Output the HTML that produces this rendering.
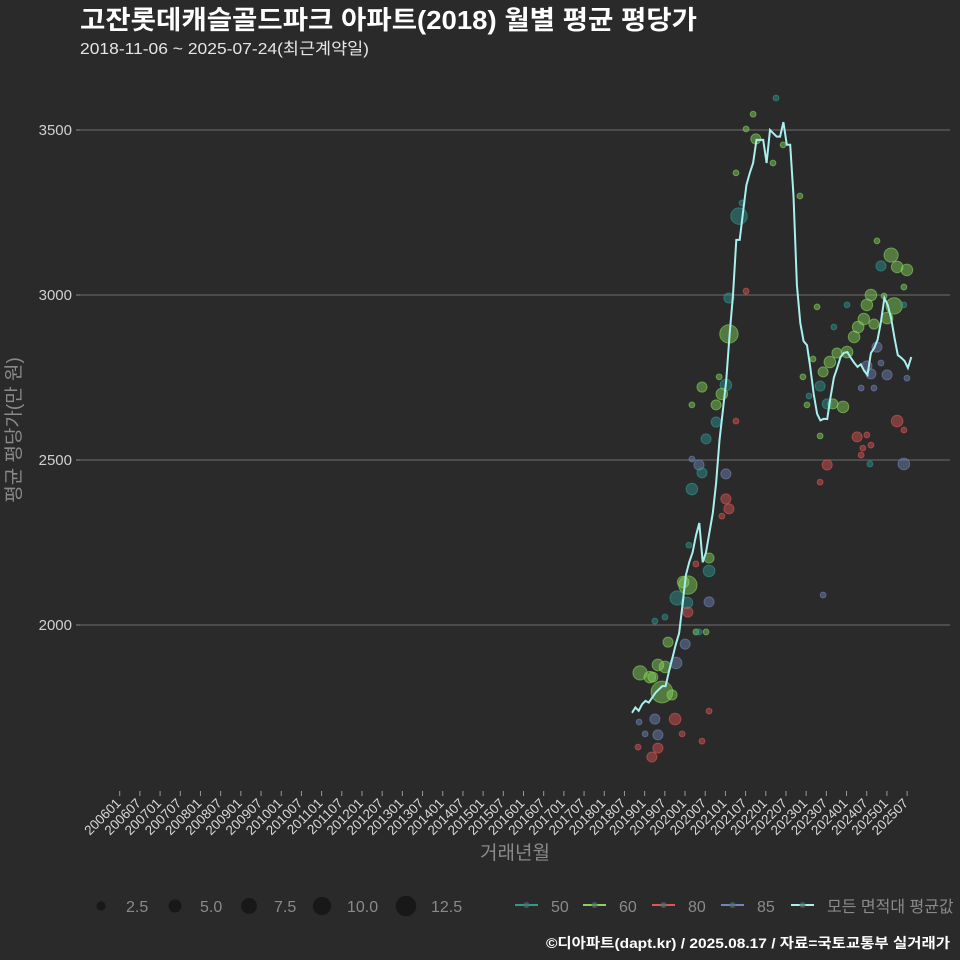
<!DOCTYPE html>
<html><head><meta charset="utf-8">
<style>
html,body{margin:0;padding:0;background:#2a2a2a;}
svg{display:block;font-family:"Liberation Sans","Noto Sans CJK KR",sans-serif;}
</style></head>
<body>
<svg id="chart" width="960" height="960" viewBox="0 0 960 960" xmlns="http://www.w3.org/2000/svg">
<rect width="960" height="960" fill="#2a2a2a"/>
<text x="80" y="29" fill="#ffffff" font-size="26" font-weight="bold" textLength="617" lengthAdjust="spacingAndGlyphs">고잔롯데캐슬골드파크 아파트(2018) 월별 평균 평당가</text>
<text x="80" y="54" fill="#e6e6e6" font-size="16" textLength="289" lengthAdjust="spacingAndGlyphs">2018-11-06 ~ 2025-07-24(최근계약일)</text>
<g id="grid"></g>
<g id="yaxis"></g>
<g id="xaxis"></g>
<g id="bubbles"></g>
<path id="avgline" fill="none" stroke="#a8f0ee" stroke-width="2"/>
<text x="0" y="0" transform="translate(20,430) rotate(-90)" text-anchor="middle" fill="#8a8a8a" font-size="19">평균 평당가(만 원)</text>
<text x="515" y="859" text-anchor="middle" fill="#8a8a8a" font-size="19">거래년월</text>
<g id="legend"></g>
<text x="950" y="948" text-anchor="end" fill="#ffffff" font-size="14" font-weight="bold" textLength="404" lengthAdjust="spacingAndGlyphs">©디아파트(dapt.kr) / 2025.08.17 / 자료=국토교통부 실거래가</text>
</svg>
<script>
// ---- data ----
const yTicks = [2000, 2500, 3000, 3500];
const xTickLabels = [];
for (let y = 2006; y <= 2025; y++) { xTickLabels.push(y + "01"); xTickLabels.push(y + "07"); }
// monthly average line, starting 2018-09 (month index 0)
const avgValues = [1734,1750,1740,1760,1770,1765,1780,1795,1805,1815,1815,1860,1900,1940,1975,2060,2150,2190,2220,2270,2309,2190,2220,2280,2339,2430,2560,2651,2740,2880,3000,3167,3167,3250,3333,3370,3400,3470,3470,3470,3400,3500,3490,3480,3480,3524,3455,3455,3300,3030,2915,2860,2848,2780,2700,2640,2620,2625,2624,2690,2750,2780,2812,2825,2827,2810,2795,2782,2790,2770,2758,2824,2840,2865,2920,2991,2970,2930,2870,2818,2810,2800,2779,2812];
// bubbles: month index (from 2018-09), value, count, area category
const bMonth = [2.4,5.3,6.2,8.9,11.9,7.7,9.8,10.7,13.1,15.8,6.8,7.7,3.9,2.1,12.8,7.7,5.9,1.8,14.9,20.8,22.9,6.8,9.8,13.4,16.3,16.6,15.2,16.6,22.9,22.9,22.9,19.0,16.9,19.0,19.9,22.0,17.8,19.9,20.8,27.9,27.9,28.8,26.7,22.0,17.8,58.0,55.9,66.9,69.8,68.6,71.0,68.1,80.8,56.8,70.7,55.9,42.8,36.0,33.9,36.8,44.9,41.9,30.9,49.9,31.8,32.7,33.9,28.8,28.8,20.8,25.9,27.9,26.7,25.0,17.8,25.0,30.9,72.8,77.0,78.8,81.7,74.0,80.8,71.0,69.8,74.9,77.9,75.8,68.9,71.9,67.2,66.0,63.9,60.9,58.8,56.8,62.7,59.7,58.0,55.9,55.0,53.8,50.8,63.9,80.8,72.8,69.8,71.0,75.8,74.0,68.1,71.9,81.7,60.0,52.6,52.0,78.8,80.8];
const bValue = [1855,1842,1842,1797,1788,1879,1873,1948,1885,1942,1715,1667,1670,1706,1715,1627,1600,1630,1670,1648,1739,2012,2024,2082,2067,2121,2130,2039,2070,2203,2164,2185,2242,1979,1979,1979,2412,2485,2461,2458,2382,2352,2330,2564,2503,2485,2433,2570,2576,2536,2545,2515,2488,2091,2488,2573,3597,3548,3503,3473,3455,3400,3370,3300,3239,3279,3012,2991,2882,2721,2752,2727,2700,2667,2667,2615,2618,3164,3121,3085,3076,3088,3024,3000,2970,2997,2967,2930,2927,2912,2903,2873,2827,2824,2797,2767,2661,2670,2670,2724,2964,2806,2752,2970,2970,2842,2785,2761,2758,2794,2718,2718,2748,2903,2694,2667,2618,2591];
const bCount = [6,4,3,14,3,4,4,3,4,3,3,3,1,1,4,3,3,1,1,1,1,1,1,6,4,10,4,3,3,3,4,1,1,1,1,1,4,3,3,3,3,3,1,3,1,3,1,3,1,1,1,1,4,1,1,1,1,1,1,3,1,1,1,1,8,1,1,3,10,3,1,4,4,3,1,3,1,1,6,4,4,3,1,4,4,1,8,4,4,3,4,4,4,3,4,3,4,3,3,3,1,1,1,1,1,3,3,3,3,1,1,1,1,1,1,1,4,1];
const bCat = [60,60,60,60,60,60,60,60,85,85,85,85,85,85,80,80,80,80,80,80,80,50,50,50,50,60,60,80,85,60,50,80,50,60,50,60,50,85,50,85,80,80,80,50,85,80,80,80,80,80,80,80,85,85,50,60,50,60,60,60,60,60,60,60,50,50,80,50,60,60,60,50,60,60,60,50,80,60,60,60,60,50,60,60,60,60,60,60,60,60,60,60,60,60,60,60,60,60,50,50,60,60,60,50,50,85,85,85,85,85,85,85,85,50,50,60,80,80];
const catNames = ["50","60","80","85"];
const catColors = {"50":"#2f9a93","60":"#86d65c","80":"#e05555","85":"#6f86b8"};
const sizeLegend = [2.5,5.0,7.5,10.0,12.5];

// ---- scales ----
const NS = "http://www.w3.org/2000/svg";
const yPx = v => 130 + (3500 - v) * 0.33;
const xTick = k => 119.7 + k * 20.19;              // k = half-year tick index
const xMonth = i => 632 + i * 3.365;               // i = months since 2018-09
const rOf = c => 2.9 * Math.sqrt(c);
function mk(tag, attrs, parent){ const e=document.createElementNS(NS,tag); for(const k in attrs) e.setAttribute(k,attrs[k]); parent.appendChild(e); return e; }

const grid = document.getElementById('grid'), yax = document.getElementById('yaxis'), xax = document.getElementById('xaxis');
yTicks.forEach(v => {
  const l = mk('line',{x1:80,x2:950,y1:yPx(v),y2:yPx(v),stroke:'#6e6e6e','stroke-width':1},grid);
  
  
  const tm = mk('line',{x1:76,x2:80,y1:yPx(v),y2:yPx(v),stroke:'#888','stroke-width':1},yax);
  
  
  const t = mk('text',{x:72,y:yPx(v)+5,'text-anchor':'end',fill:'#d0d0d0','font-size':15},yax);
  t.textContent = v;
  
  
});
xTickLabels.forEach((lab,k) => {
  const x = xTick(k);
  const tm = mk('line',{x1:x,x2:x,y1:791,y2:796,stroke:'#999','stroke-width':1},xax);
  
  
  const t = mk('text',{x:0,y:0,transform:`translate(${x+2},${804}) rotate(-45)`,'text-anchor':'end',fill:'#d8d8d8','font-size':13.5},xax);
  t.textContent = lab;
  
  
});

// bubbles
const bg = document.getElementById('bubbles');
bMonth.forEach((m,i) => {
  const col = catColors[bCat[i]];
  const c = mk('circle',{cx:xMonth(m),cy:yPx(bValue[i]),r:rOf(bCount[i]),fill:col,'fill-opacity':0.45,stroke:col,'stroke-opacity':0.6,'stroke-width':1},bg);
  
  
});

// average line
document.getElementById('avgline').setAttribute('d', avgValues.map((v,i)=>(i?'L':'M')+xMonth(i).toFixed(1)+','+yPx(v).toFixed(1)).join(''));

// legend
const lg = document.getElementById('legend');
const sizeX = [101,175,249,322,406];
sizeLegend.forEach((s,i) => {
  const c = mk('circle',{cx:sizeX[i],cy:906,r:rOf(s),fill:'#141414','fill-opacity':0.8},lg);
  
  
  const t = mk('text',{x:sizeX[i]+25,y:912,fill:'#8a8a8a','font-size':16},lg);
  t.textContent = s.toFixed(1);
  
  
});
const colX = [515,583,652,721,791];
const entries = catNames.concat(['모든 면적대 평균값']);
entries.forEach((n,i) => {
  const col = i < 4 ? catColors[n] : '#a8f0ee';
  const l = mk('line',{x1:colX[i],x2:colX[i]+23,y1:905,y2:905,stroke:col,'stroke-width':2},lg);
  
  
  const d = mk('circle',{cx:colX[i]+11.5,cy:905,r:3,fill:'#4e6e6e','fill-opacity':0.7},lg);
  
  
  const t = mk('text',{x:colX[i]+36,y:912,fill:'#8a8a8a','font-size':16},lg);
  t.textContent = n;
  
  
});
</script>
</body></html>
